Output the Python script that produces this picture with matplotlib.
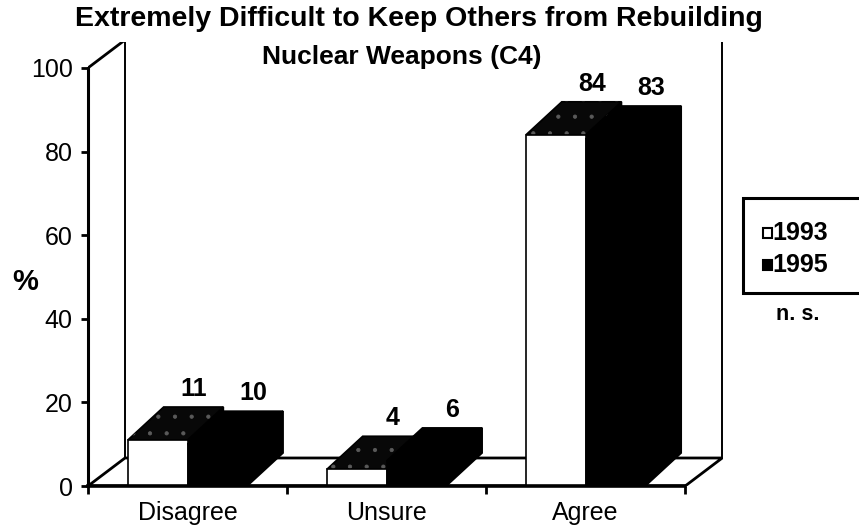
import matplotlib
matplotlib.use('Agg')
import matplotlib.pyplot as plt
from matplotlib.patches import Polygon, Rectangle

plt.rcParams['font.family'] = ['Liberation Sans', 'DejaVu Sans']
plt.rcParams['hatch.linewidth'] = 0.6

categories = ['Disagree', 'Unsure', 'Agree']
pct_1993 = [11, 4, 84]
pct_1995 = [10, 6, 83]
years = ['1993', '1995']
y_ticks = [0, 20, 40, 60, 80, 100]

W, H = 859, 527
BAR_W = 0.30
BAR_DX, BAR_DY = 0.18, 7.9
WALL_DX, WALL_DY = 0.186, 6.7


def fpos(x, y):
    # pixel position (from top left) -> figure fraction
    return x / W, 1 - y / H


def bar3d(ax, x0, h, front, top, side, dotted=False):
    x1 = x0 + BAR_W
    ax.add_patch(Polygon([(x1, 0), (x1 + BAR_DX, BAR_DY), (x1 + BAR_DX, h + BAR_DY), (x1, h)],
                         facecolor=side, edgecolor='black', lw=1.2, joinstyle='miter'))
    top_pts = [(x0, h), (x1, h), (x1 + BAR_DX, h + BAR_DY), (x0 + BAR_DX, h + BAR_DY)]
    ax.add_patch(Polygon(top_pts, facecolor=top, edgecolor='black', lw=1.2, joinstyle='miter'))
    if dotted:
        # faint speckle on the dark top face, as in the scan
        ax.add_patch(Polygon(top_pts, facecolor='none', edgecolor='#5a5a5a', lw=0, hatch='.'))
    ax.add_patch(Rectangle((x0, 0), BAR_W, h, facecolor=front, edgecolor='black', lw=1.2))


fig = plt.figure(figsize=(W / 100, H / 100), dpi=100)
left, bottom = fpos(88, 486)
ax = fig.add_axes([left, bottom, (725 - 88) / W, (486 - 42) / H])
ncat = len(categories)
ax.set_xlim(0, 3.2)
ax.set_ylim(0, 106.2)

# floor and back wall
ax.add_patch(Polygon([(0, 0), (ncat, 0), (ncat + WALL_DX, WALL_DY), (WALL_DX, WALL_DY)],
                     facecolor='white', edgecolor='black', lw=2, zorder=0))
ax.plot([WALL_DX, WALL_DX, ncat + WALL_DX, ncat + WALL_DX],
        [WALL_DY, 100 + WALL_DY, 100 + WALL_DY, WALL_DY], color='black', lw=1.4, zorder=0)
ax.plot([0, WALL_DX], [100, 100 + WALL_DY], color='black', lw=2, zorder=0)

for i in range(ncat):
    c = i + 0.5
    bar3d(ax, c - BAR_W, pct_1993[i], 'white', '#080808', 'black', dotted=True)
    bar3d(ax, c, pct_1995[i], 'black', 'black', 'black')
    for x0, v in [(c - BAR_W, pct_1993[i]), (c, pct_1995[i])]:
        ax.annotate(str(v), (x0 + BAR_W / 2 + BAR_DX, v + BAR_DY), xytext=(0, 13),
                    textcoords='offset points', ha='center', va='center',
                    fontsize=18, fontweight='bold')

for s in ['top', 'right']:
    ax.spines[s].set_visible(False)
ax.spines['left'].set_bounds(0, 100)
ax.spines['bottom'].set_bounds(0, ncat)
ax.spines['left'].set_linewidth(2.2)
ax.spines['bottom'].set_linewidth(2.6)

ax.set_yticks(y_ticks)
ax.tick_params(axis='y', length=5, width=2, labelsize=18, pad=6)
ax.set_xticks(range(ncat + 1))
ax.set_xticklabels([])
ax.set_xticks([i + 0.5 for i in range(ncat)], categories, minor=True)
ax.tick_params(axis='x', which='major', length=6, width=2)
ax.tick_params(axis='x', which='minor', length=0, labelsize=18, pad=11)

fig.text(*fpos(419, 19), 'Extremely Difficult to Keep Others from Rebuilding',
         ha='center', va='center', fontsize=20.5, fontweight='bold')
fig.text(*fpos(402, 57), 'Nuclear Weapons (C4)',
         ha='center', va='center', fontsize=19, fontweight='bold')
fig.text(*fpos(25, 282), '%', ha='center', va='center', fontsize=21, fontweight='bold')

# legend box, runs off the right edge like the original
bx, by = fpos(743, 293)
fig.patches.append(Rectangle((bx, by), 0.2, (293 - 198) / H, transform=fig.transFigure,
                             facecolor='white', edgecolor='black', lw=2.2))
for k, (yr, col) in enumerate(zip(years, ['white', 'black'])):
    ypx = 233 + 32 * k
    mx, my = fpos(763, ypx + 5)
    fig.patches.append(Rectangle((mx, my), 9 / W, 10 / H, transform=fig.transFigure,
                                 facecolor=col, edgecolor='black', lw=1.5))
    fig.text(*fpos(772, ypx), yr, ha='left', va='center', fontsize=18, fontweight='bold')
fig.text(*fpos(798, 314), 'n. s.', ha='center', va='center', fontsize=15.5, fontweight='bold')

fig.savefig('out.png', dpi=100)
